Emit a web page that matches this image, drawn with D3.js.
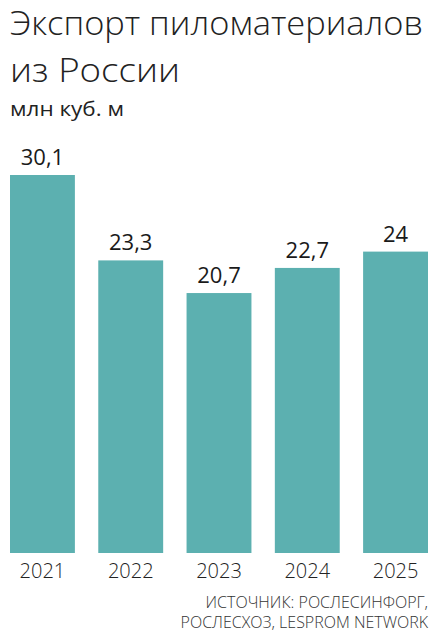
<!DOCTYPE html>
<html><head><meta charset="utf-8">
<script src="https://cdn.jsdelivr.net/npm/d3@7"></script>
<style>body{margin:0;background:#fff}svg{display:block}</style>
</head><body>
<script>
const years = ["2021","2022","2023","2024","2025"];
const values = [30.1, 23.3, 20.7, 22.7, 24];
const valueLabels = ["30,1","23,3","20,7","22,7","24"];
const titleLines = ["Экспорт пиломатериалов","из России"];
const unitLabel = "млн куб. м";
const sourceLines = ["ИСТОЧНИК: РОСЛЕСИНФОРГ,","РОСЛЕСХОЗ, LESPROM NETWORK"];

const W = 438, H = 639;
const svg = d3.select("body").append("svg").attr("width", W).attr("height", H);
const font = "'Open Sans', 'Noto Sans', sans-serif";

function fit(sel, target){
  sel.each(function(){
    const w = this.getComputedTextLength();
    if (Math.abs(w - target) > 2) d3.select(this).attr("textLength", target).attr("lengthAdjust","spacingAndGlyphs");
  });
}

const titleWidths = [413, 170];
svg.append("g").selectAll("text").data(titleLines).join("text")
  .attr("x", 10).attr("y", (d,i)=>35+i*47)
  .attr("font-family", font).attr("font-weight", 300).attr("font-size", 32.5)
  .attr("fill", "#222").text(d=>d)
  .each(function(d,i){ fit(d3.select(this), titleWidths[i]); });

svg.append("text").attr("x", 10).attr("y", 116)
  .attr("font-family", font).attr("font-weight", 500).attr("font-size", 20)
  .attr("fill", "#222").text(unitLabel)
  .call(s=>fit(s, 114));

const x = d3.scaleBand().domain(years).range([10, 428]).paddingInner(0.265).paddingOuter(0);
const y = d3.scaleLinear().domain([0, 30.1]).range([553, 175]);

svg.append("g").selectAll("rect").data(values).join("rect")
  .attr("x", (d,i)=>x(years[i])).attr("width", x.bandwidth())
  .attr("y", d=>y(d)).attr("height", d=>y(0)-y(d))
  .attr("fill", "#5cb0b0");

svg.append("g").selectAll("text").data(values).join("text")
  .attr("x", (d,i)=>x(years[i])+x.bandwidth()/2).attr("y", d=>y(d)-10)
  .attr("text-anchor","middle")
  .attr("font-family", font).attr("font-weight", 500).attr("font-size", 22)
  .attr("fill", "#1a1a1a").text((d,i)=>valueLabels[i]);

const xAxis = d3.axisBottom(x).tickSize(0).tickPadding(0);
const ax = svg.append("g").attr("transform", "translate(0,578)").call(xAxis);
ax.select(".domain").remove();
ax.selectAll("text").attr("dy", 0).attr("font-family", font).attr("font-weight", 300)
  .attr("font-size", 20).attr("fill", "#222");

svg.append("g").selectAll("text").data(sourceLines).join("text")
  .attr("x", 428).attr("y", (d,i)=>608+i*20).attr("text-anchor","end")
  .attr("font-family", font).attr("font-weight", 300).attr("font-size", 16)
  .attr("fill", "#333").text(d=>d);
</script>
</body></html>
